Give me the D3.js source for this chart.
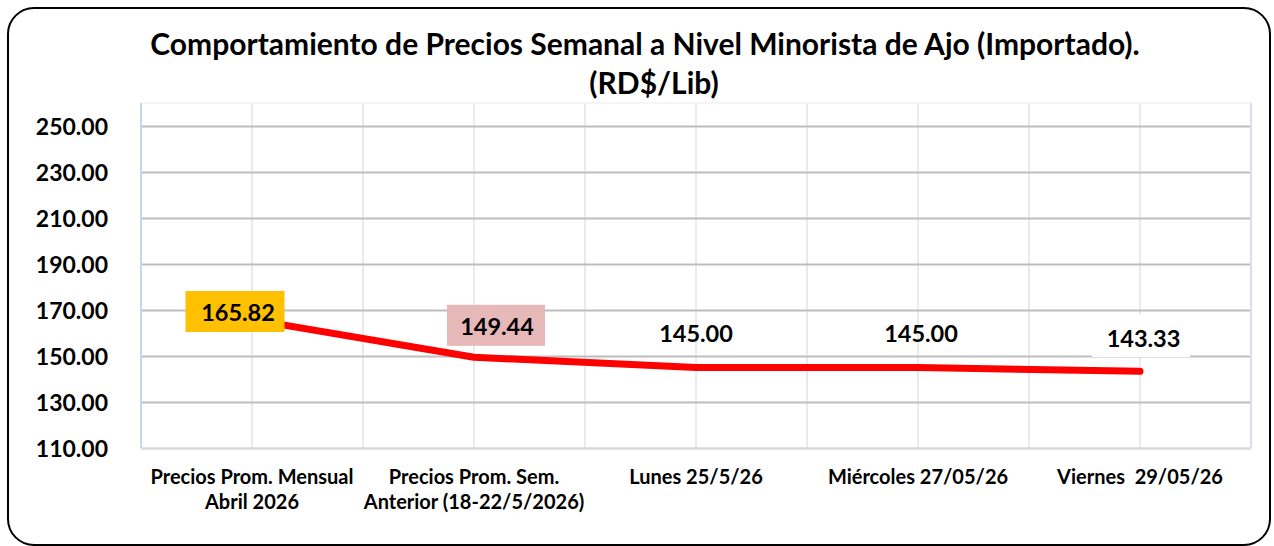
<!DOCTYPE html>
<html>
<head>
<meta charset="utf-8">
<script src="https://cdn.jsdelivr.net/npm/d3@7"></script>
<style>
  html, body { margin: 0; padding: 0; background: #fff; }
  svg { display: block; font-family: Lato, "Open Sans", sans-serif; }
  text { white-space: pre; }
</style>
</head>
<body>
<svg id="chart" width="1274" height="546"></svg>
<script>
// ---- data ----
const categories = [
  ["Precios Prom. Mensual", "Abril 2026"],
  ["Precios Prom. Sem.", "Anterior (18-22/5/2026)"],
  ["Lunes 25/5/26"],
  ["Miércoles 27/05/26"],
  ["Viernes  29/05/26"]
];
const prices = [165.82, 149.44, 145.00, 145.00, 143.33];
const yTicks = [110, 130, 150, 170, 190, 210, 230, 250];
const titleLines = ["Comportamiento de Precios Semanal a Nivel Minorista de Ajo (Importado).", "(RD$/Lib)"];
const labelFills = ["#FFC000", "#E6B8B7", "none", "none", "#FFFFFF"];
// label placement relative to the point (style, not data)
const labelOffsets = [[-14, -6.6], [23, -31], [0, -33.5], [3, -33.5], [3.5, -33.3]];
const labelBoxes = [[99, 41, -3, -1.5], [98, 41, -1, -1], [0, 0, 0, 0], [0, 0, 0, 0], [98, 42, -2.5, -2]];

// ---- layout ----
const svg = d3.select("#chart");
const plot = { left: 141, right: 1251, top: 103, bottom: 448 };

const x = d3.scaleBand().domain(d3.range(categories.length)).range([plot.left, plot.right]).padding(0);
const y = d3.scaleLinear().domain([110, 260]).range([plot.bottom, plot.top]);

// outer rounded frame
svg.append("rect")
  .attr("x", 8).attr("y", 8).attr("width", 1262).attr("height", 537)
  .attr("rx", 26).attr("ry", 26)
  .attr("fill", "#fff").attr("stroke", "#000").attr("stroke-width", 2);

// title
svg.append("text").attr("x", 645).attr("y", 55).attr("text-anchor", "middle")
  .attr("font-weight", 700).attr("font-size", 30).attr("fill", "#000").text(titleLines[0]);
svg.append("text").attr("x", 654).attr("y", 94).attr("text-anchor", "middle")
  .attr("font-weight", 700).attr("font-size", 30).attr("fill", "#000").text(titleLines[1]);

// vertical gridlines (band edges and centers)
const vLines = [];
x.domain().forEach(i => { vLines.push(x(i)); vLines.push(x(i) + x.bandwidth() / 2); });
vLines.push(plot.right);
svg.append("g").selectAll("line").data(vLines).join("line")
  .attr("x1", d => d).attr("x2", d => d)
  .attr("y1", plot.top).attr("y2", plot.bottom)
  .attr("stroke", "#e3e3e3").attr("stroke-width", 1.5);

// top border
svg.append("line").attr("x1", plot.left).attr("x2", plot.right)
  .attr("y1", plot.top).attr("y2", plot.top)
  .attr("stroke", "#eef2f8").attr("stroke-width", 1.5);

// horizontal gridlines via axis
const yAxis = d3.axisLeft(y).tickValues(yTicks).tickSize(-(plot.right - plot.left)).tickFormat(d3.format(".2f")).tickPadding(33);
const gy = svg.append("g").attr("transform", `translate(${plot.left},0)`).call(yAxis);
gy.select(".domain").remove();
gy.selectAll(".tick line").attr("stroke", d => d === 110 ? "#d9d9d9" : "#bdbdbd").attr("stroke-width", d => d === 110 ? 2.5 : 2);
gy.selectAll(".tick text").attr("font-family", "Lato, sans-serif").attr("font-weight", 700)
  .attr("font-size", 23).attr("fill", "#000").attr("dy", "0.36em");

// left border (light blue)
svg.append("line").attr("x1", plot.left).attr("x2", plot.left)
  .attr("y1", plot.top).attr("y2", plot.bottom)
  .attr("stroke", "#c6d6ec").attr("stroke-width", 2);
// right border
svg.append("line").attr("x1", plot.right).attr("x2", plot.right)
  .attr("y1", plot.top).attr("y2", plot.bottom)
  .attr("stroke", "#d6dfeb").attr("stroke-width", 2);

// x category labels
const cx = i => x(i) + x.bandwidth() / 2;
const gx = svg.append("g");
categories.forEach((lines, i) => {
  const t = gx.append("text").attr("x", cx(i)).attr("y", 484).attr("text-anchor", "middle")
    .attr("font-weight", 700).attr("font-size", 20).attr("fill", "#000");
  lines.forEach((ln, j) => {
    t.append("tspan").attr("x", cx(i)).attr("dy", j === 0 ? 0 : 25).text(ln);
  });
});

// line
const line = d3.line().x((d, i) => cx(i)).y(d => y(d));
svg.append("path").datum(prices).attr("d", line)
  .attr("fill", "none").attr("stroke", "#FF0000").attr("stroke-width", 7)
  .attr("stroke-linecap", "round").attr("stroke-linejoin", "round");

// data labels
const gl = svg.append("g");
prices.forEach((v, i) => {
  const lx = cx(i) + labelOffsets[i][0];
  const ly = y(v) + labelOffsets[i][1];
  const [bw, bh, bdx, bdy] = labelBoxes[i];
  if (labelFills[i] !== "none") {
    gl.append("rect").attr("x", lx + bdx - bw / 2).attr("y", ly + bdy - bh / 2)
      .attr("width", bw).attr("height", bh).attr("fill", labelFills[i]);
  }
  gl.append("text").attr("x", lx).attr("y", ly).attr("dy", "0.36em")
    .attr("text-anchor", "middle").attr("font-weight", 700).attr("font-size", 23.5)
    .attr("fill", "#000").text(d3.format(".2f")(v));
});
</script>
</body>
</html>
